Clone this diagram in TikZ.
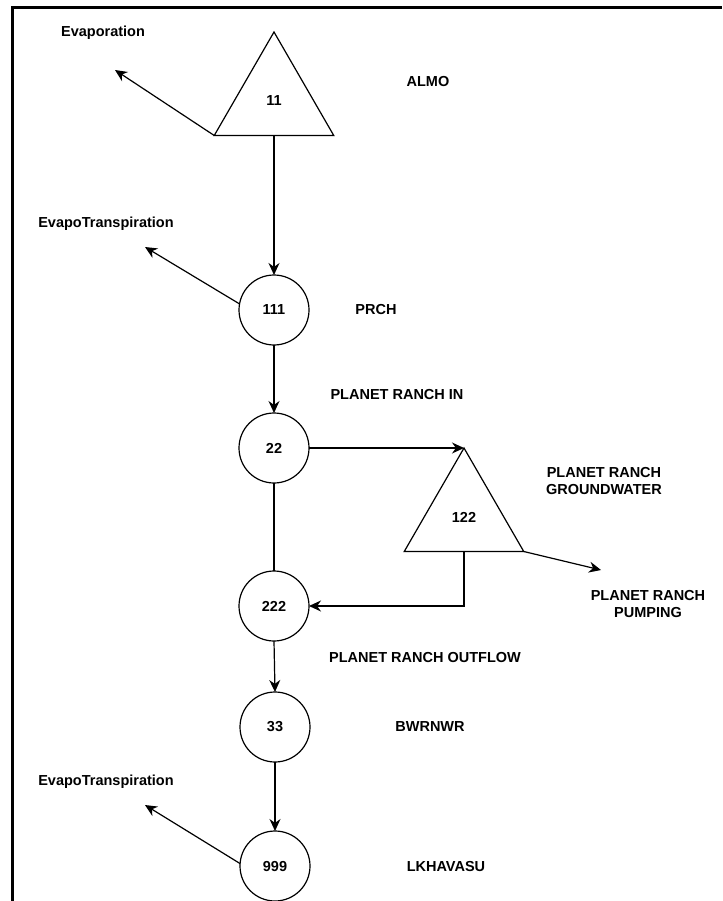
\documentclass[tikz,border=0pt]{standalone}
\usepackage{fontspec}
\setmainfont{Liberation Sans}
\usepackage{tikz}
\usetikzlibrary{shapes.geometric}
\usetikzlibrary{arrows.meta}
\usetikzlibrary{positioning}

\begin{document}
\begin{tikzpicture}[x=1pt, y=-1pt,
        reach/.style={draw, circle, line width=1.2pt, minimum size=70pt, inner sep=0pt, outer sep=0pt,
                      font=\fontsize{14.5}{16}\selectfont\bfseries},
        pond/.style={draw, regular polygon, regular polygon sides=3, minimum size=138pt, inner sep=0pt,
                     outer sep=0pt, line width=1.2pt, font=\fontsize{14.5}{16}\selectfont\bfseries},
        lbl/.style={font=\fontsize{14.5}{17}\selectfont\bfseries, align=center, inner sep=0pt},
        flow/.style={-{Stealth[length=12pt, width=11pt]}, line width=1.2pt}]
            \useasboundingbox                                (0, 0) rectangle (722, 901);
            \draw[line width=3pt]                            (12, 901) -- (12, 8) -- (722, 8);
            \node[pond]  (t11)  at (274, 101) {11};
            \node[reach] (c111) at (274, 310) {111};
            \node[reach] (c22)  at (274, 448) {22};
            \node[pond]  (t122) at (464, 517) {122};
            \node[reach] (c222) at (274, 606) {222};
            \node[reach] (c33)  at (275, 727) {33};
            \node[reach] (c999) at (275, 866) {999};
            \node[lbl]   (evap)   at (103,  33) {Evaporation};
            \node[lbl]   (almo)   at (428,  82) {ALMO};
            \node[lbl]   (et1)    at (106, 224) {EvapoTranspiration};
            \node[lbl]   (prch)   at (376, 310) {PRCH};
            \node[lbl]   (prin)   at (397, 395) {PLANET RANCH IN};
            \node[lbl]   (prgw)   at (604, 481) {PLANET RANCH\\GROUNDWATER};
            \node[lbl]   (prpump) at (648, 604) {PLANET RANCH\\PUMPING};
            \node[lbl]   (prout)  at (425, 658) {PLANET RANCH OUTFLOW};
            \node[lbl]   (bwr)    at (430, 727) {BWRNWR};
            \node[lbl]   (lkh)    at (446, 866) {LKHAVASU};
            \node[lbl]   (et2)    at (106, 782) {EvapoTranspiration};
            \coordinate (evapend) at (115,  70);
            \coordinate (et1end)  at (145, 247);
            \coordinate (pumpend) at (601, 570);
            \coordinate (et2end)  at (145, 805);
            \draw[flow] (t11.corner 2) -- (evapend);
            \draw[flow] (t11.south)    -- (c111.north);
            \draw[flow] (c111.170)     -- (et1end);
            \draw[flow] (c111.south)   -- (c22.north);
            \draw[flow] (c22.east)     -- (t122.corner 1);
            \draw[line width=1.2pt] (c22.south) -- (c222.north);
            \draw[flow] (t122.corner 3) -- (pumpend);
            \draw[flow] (t122.south)   |- (c222.east);
            \draw[flow] (c222.south)   -- (c33.north);
            \draw[flow] (c33.south)    -- (c999.north);
            \draw[flow] (c999.176)     -- (et2end);
\end{tikzpicture}
\end{document}
